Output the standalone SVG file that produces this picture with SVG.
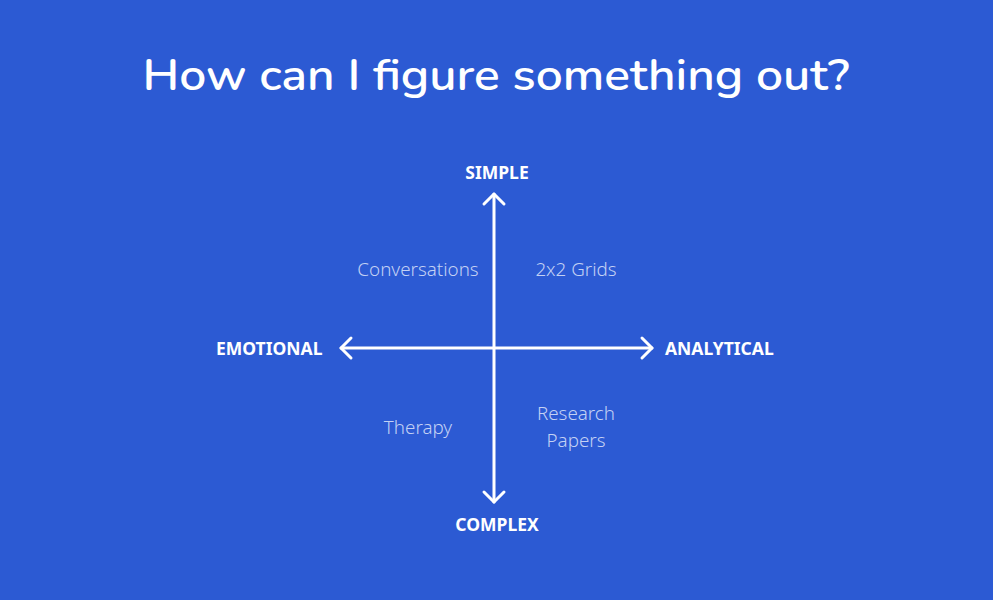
<svg xmlns="http://www.w3.org/2000/svg" width="993" height="600" viewBox="0 0 993 600">
<style>
.title{font-family:"Nunito","Noto Sans","Open Sans",sans-serif;font-size:45px;font-weight:600;fill:#fff}
.axis{font-family:"Noto Sans","Open Sans",sans-serif;font-size:17.5px;font-weight:700;fill:#fff}
.q{font-family:"Noto Sans","Open Sans",sans-serif;font-size:18.8px;font-weight:300;fill:#c3d1f4}
.ln{stroke:#fff;stroke-width:3;fill:none;stroke-linecap:round;stroke-linejoin:round}
</style>
<rect width="993" height="600" fill="#2c5ad3"/>
<text class="title" x="496" y="90" text-anchor="middle" textLength="707" lengthAdjust="spacingAndGlyphs">How can I figure something out?</text>
<g id="connectors">
<path class="ln" d="M494 194 V502"/>
<path class="ln" d="M341 348 H652"/>
<path class="ln" d="M484 204 L494 194 L504 204"/>
<path class="ln" d="M484 492 L494 502 L504 492"/>
<path class="ln" d="M351 338 L341 348 L351 358"/>
<path class="ln" d="M642 338 L652 348 L642 358"/>
</g>
<g id="simple"><text class="axis" x="497" y="179" text-anchor="middle">SIMPLE</text></g>
<g id="complex"><text class="axis" x="497" y="531" text-anchor="middle">COMPLEX</text></g>
<g id="emotional"><text class="axis" x="216" y="355">EMOTIONAL</text></g>
<g id="analytical"><text class="axis" x="665" y="355">ANALYTICAL</text></g>
<g id="conversations"><text class="q" x="418" y="276" text-anchor="middle">Conversations</text></g>
<g id="grids"><text class="q" x="576" y="276" text-anchor="middle">2x2 Grids</text></g>
<g id="therapy"><text class="q" x="418" y="434" text-anchor="middle">Therapy</text></g>
<g id="research"><text class="q" x="576" y="420" text-anchor="middle">Research</text><text class="q" x="576" y="447" text-anchor="middle">Papers</text></g>
</svg>
